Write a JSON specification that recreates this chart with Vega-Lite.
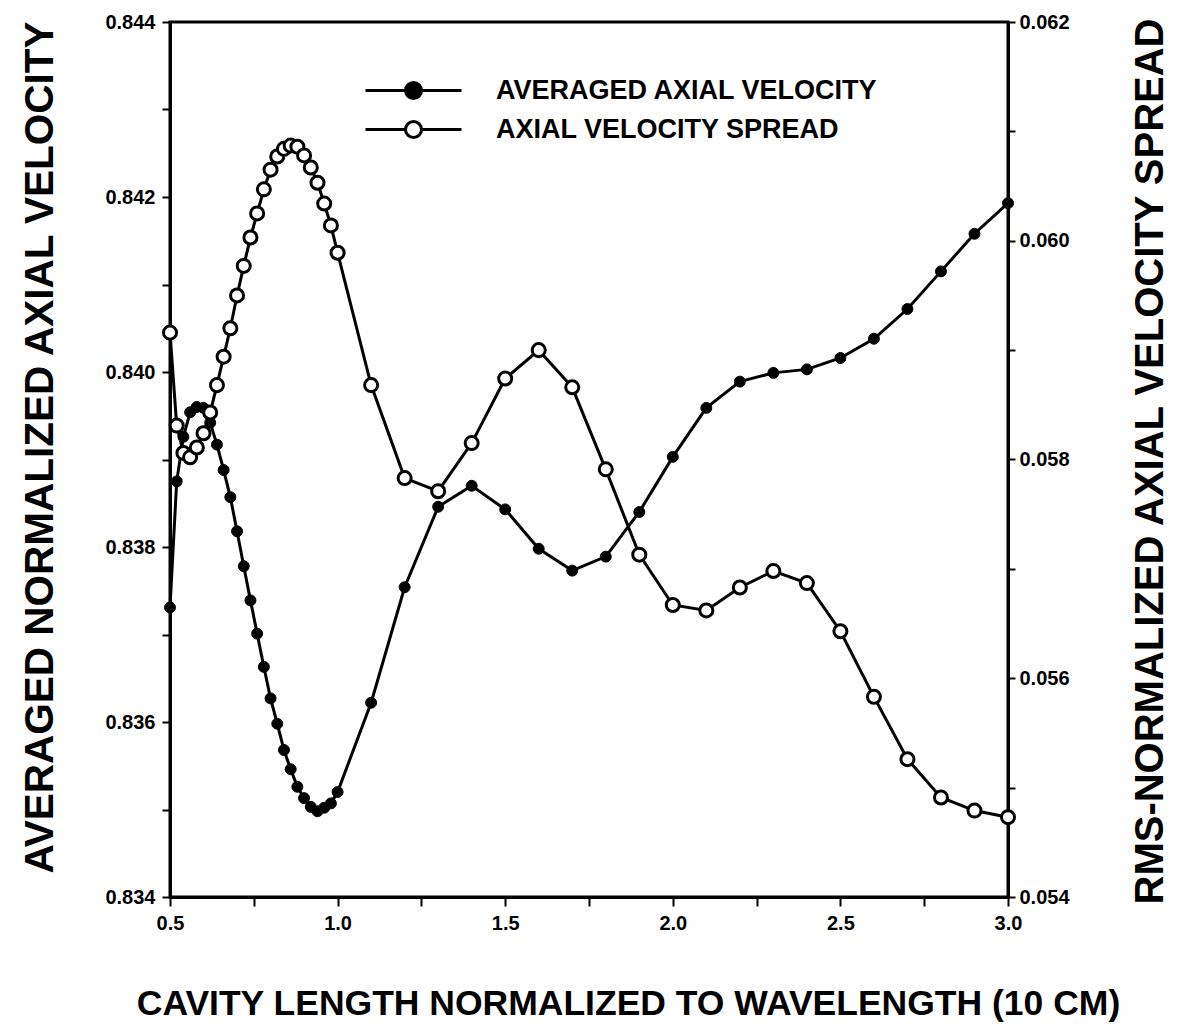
{
  "$schema": "https://vega.github.io/schema/vega-lite/v6.json",
  "width": 838,
  "height": 875,
  "autosize": {"type": "none"},
  "padding": {"left": 170, "top": 22, "right": 173, "bottom": 134},
  "background": "white",
  "config": {
    "view": {"stroke": "black", "strokeWidth": 3},
    "axis": {
      "labelFont": "Liberation Sans", "labelFontWeight": "bold", "labelFontSize": 20, "labelColor": "black",
      "tickColor": "black", "domainColor": "black", "tickWidth": 2, "domainWidth": 3, "grid": false,
      "titleFont": "Liberation Sans", "titleFontWeight": "bold", "titleColor": "black"
    },
    "legend": {
      "labelFont": "Liberation Sans", "labelFontWeight": "bold", "labelFontSize": 27, "labelColor": "black", "labelLimit": 0
    }
  },
  "datasets": {
    "avg": [
      {"L": 0.50, "V": 0.83731, "S": "AVERAGED AXIAL VELOCITY"},
      {"L": 0.52, "V": 0.83875, "S": "AVERAGED AXIAL VELOCITY"},
      {"L": 0.54, "V": 0.83926, "S": "AVERAGED AXIAL VELOCITY"},
      {"L": 0.56, "V": 0.83954, "S": "AVERAGED AXIAL VELOCITY"},
      {"L": 0.58, "V": 0.83960, "S": "AVERAGED AXIAL VELOCITY"},
      {"L": 0.60, "V": 0.83959, "S": "AVERAGED AXIAL VELOCITY"},
      {"L": 0.62, "V": 0.83942, "S": "AVERAGED AXIAL VELOCITY"},
      {"L": 0.64, "V": 0.83917, "S": "AVERAGED AXIAL VELOCITY"},
      {"L": 0.66, "V": 0.83888, "S": "AVERAGED AXIAL VELOCITY"},
      {"L": 0.68, "V": 0.83857, "S": "AVERAGED AXIAL VELOCITY"},
      {"L": 0.70, "V": 0.83818, "S": "AVERAGED AXIAL VELOCITY"},
      {"L": 0.72, "V": 0.83778, "S": "AVERAGED AXIAL VELOCITY"},
      {"L": 0.74, "V": 0.83739, "S": "AVERAGED AXIAL VELOCITY"},
      {"L": 0.76, "V": 0.83701, "S": "AVERAGED AXIAL VELOCITY"},
      {"L": 0.78, "V": 0.83663, "S": "AVERAGED AXIAL VELOCITY"},
      {"L": 0.80, "V": 0.83627, "S": "AVERAGED AXIAL VELOCITY"},
      {"L": 0.82, "V": 0.83598, "S": "AVERAGED AXIAL VELOCITY"},
      {"L": 0.84, "V": 0.83568, "S": "AVERAGED AXIAL VELOCITY"},
      {"L": 0.86, "V": 0.83546, "S": "AVERAGED AXIAL VELOCITY"},
      {"L": 0.88, "V": 0.83526, "S": "AVERAGED AXIAL VELOCITY"},
      {"L": 0.90, "V": 0.83513, "S": "AVERAGED AXIAL VELOCITY"},
      {"L": 0.92, "V": 0.83503, "S": "AVERAGED AXIAL VELOCITY"},
      {"L": 0.94, "V": 0.83498, "S": "AVERAGED AXIAL VELOCITY"},
      {"L": 0.96, "V": 0.83502, "S": "AVERAGED AXIAL VELOCITY"},
      {"L": 0.98, "V": 0.83507, "S": "AVERAGED AXIAL VELOCITY"},
      {"L": 1.00, "V": 0.83520, "S": "AVERAGED AXIAL VELOCITY"},
      {"L": 1.1, "V": 0.83622, "S": "AVERAGED AXIAL VELOCITY"},
      {"L": 1.2, "V": 0.83754, "S": "AVERAGED AXIAL VELOCITY"},
      {"L": 1.3, "V": 0.83846, "S": "AVERAGED AXIAL VELOCITY"},
      {"L": 1.4, "V": 0.83870, "S": "AVERAGED AXIAL VELOCITY"},
      {"L": 1.5, "V": 0.83843, "S": "AVERAGED AXIAL VELOCITY"},
      {"L": 1.6, "V": 0.83798, "S": "AVERAGED AXIAL VELOCITY"},
      {"L": 1.7, "V": 0.83773, "S": "AVERAGED AXIAL VELOCITY"},
      {"L": 1.8, "V": 0.83789, "S": "AVERAGED AXIAL VELOCITY"},
      {"L": 1.9, "V": 0.83840, "S": "AVERAGED AXIAL VELOCITY"},
      {"L": 2.0, "V": 0.83903, "S": "AVERAGED AXIAL VELOCITY"},
      {"L": 2.1, "V": 0.83959, "S": "AVERAGED AXIAL VELOCITY"},
      {"L": 2.2, "V": 0.83989, "S": "AVERAGED AXIAL VELOCITY"},
      {"L": 2.3, "V": 0.83999, "S": "AVERAGED AXIAL VELOCITY"},
      {"L": 2.4, "V": 0.84003, "S": "AVERAGED AXIAL VELOCITY"},
      {"L": 2.5, "V": 0.84016, "S": "AVERAGED AXIAL VELOCITY"},
      {"L": 2.6, "V": 0.84038, "S": "AVERAGED AXIAL VELOCITY"},
      {"L": 2.7, "V": 0.84072, "S": "AVERAGED AXIAL VELOCITY"},
      {"L": 2.8, "V": 0.84115, "S": "AVERAGED AXIAL VELOCITY"},
      {"L": 2.9, "V": 0.84158, "S": "AVERAGED AXIAL VELOCITY"},
      {"L": 3.0, "V": 0.84193, "S": "AVERAGED AXIAL VELOCITY"}
    ],
    "spread": [
      {"L": 0.50, "V": 0.05916, "S": "AXIAL VELOCITY SPREAD"},
      {"L": 0.52, "V": 0.05831, "S": "AXIAL VELOCITY SPREAD"},
      {"L": 0.54, "V": 0.05806, "S": "AXIAL VELOCITY SPREAD"},
      {"L": 0.56, "V": 0.05802, "S": "AXIAL VELOCITY SPREAD"},
      {"L": 0.58, "V": 0.05811, "S": "AXIAL VELOCITY SPREAD"},
      {"L": 0.60, "V": 0.05824, "S": "AXIAL VELOCITY SPREAD"},
      {"L": 0.62, "V": 0.05843, "S": "AXIAL VELOCITY SPREAD"},
      {"L": 0.64, "V": 0.05868, "S": "AXIAL VELOCITY SPREAD"},
      {"L": 0.66, "V": 0.05894, "S": "AXIAL VELOCITY SPREAD"},
      {"L": 0.68, "V": 0.05920, "S": "AXIAL VELOCITY SPREAD"},
      {"L": 0.70, "V": 0.05950, "S": "AXIAL VELOCITY SPREAD"},
      {"L": 0.72, "V": 0.05977, "S": "AXIAL VELOCITY SPREAD"},
      {"L": 0.74, "V": 0.06003, "S": "AXIAL VELOCITY SPREAD"},
      {"L": 0.76, "V": 0.06025, "S": "AXIAL VELOCITY SPREAD"},
      {"L": 0.78, "V": 0.06047, "S": "AXIAL VELOCITY SPREAD"},
      {"L": 0.80, "V": 0.06065, "S": "AXIAL VELOCITY SPREAD"},
      {"L": 0.82, "V": 0.06077, "S": "AXIAL VELOCITY SPREAD"},
      {"L": 0.84, "V": 0.06084, "S": "AXIAL VELOCITY SPREAD"},
      {"L": 0.86, "V": 0.06087, "S": "AXIAL VELOCITY SPREAD"},
      {"L": 0.88, "V": 0.06086, "S": "AXIAL VELOCITY SPREAD"},
      {"L": 0.90, "V": 0.06078, "S": "AXIAL VELOCITY SPREAD"},
      {"L": 0.92, "V": 0.06067, "S": "AXIAL VELOCITY SPREAD"},
      {"L": 0.94, "V": 0.06053, "S": "AXIAL VELOCITY SPREAD"},
      {"L": 0.96, "V": 0.06034, "S": "AXIAL VELOCITY SPREAD"},
      {"L": 0.98, "V": 0.06014, "S": "AXIAL VELOCITY SPREAD"},
      {"L": 1.00, "V": 0.05989, "S": "AXIAL VELOCITY SPREAD"},
      {"L": 1.1, "V": 0.05868, "S": "AXIAL VELOCITY SPREAD"},
      {"L": 1.2, "V": 0.05783, "S": "AXIAL VELOCITY SPREAD"},
      {"L": 1.3, "V": 0.05771, "S": "AXIAL VELOCITY SPREAD"},
      {"L": 1.4, "V": 0.05815, "S": "AXIAL VELOCITY SPREAD"},
      {"L": 1.5, "V": 0.05874, "S": "AXIAL VELOCITY SPREAD"},
      {"L": 1.6, "V": 0.05900, "S": "AXIAL VELOCITY SPREAD"},
      {"L": 1.7, "V": 0.05866, "S": "AXIAL VELOCITY SPREAD"},
      {"L": 1.8, "V": 0.05791, "S": "AXIAL VELOCITY SPREAD"},
      {"L": 1.9, "V": 0.05713, "S": "AXIAL VELOCITY SPREAD"},
      {"L": 2.0, "V": 0.05667, "S": "AXIAL VELOCITY SPREAD"},
      {"L": 2.1, "V": 0.05662, "S": "AXIAL VELOCITY SPREAD"},
      {"L": 2.2, "V": 0.05683, "S": "AXIAL VELOCITY SPREAD"},
      {"L": 2.3, "V": 0.05698, "S": "AXIAL VELOCITY SPREAD"},
      {"L": 2.4, "V": 0.05687, "S": "AXIAL VELOCITY SPREAD"},
      {"L": 2.5, "V": 0.05643, "S": "AXIAL VELOCITY SPREAD"},
      {"L": 2.6, "V": 0.05583, "S": "AXIAL VELOCITY SPREAD"},
      {"L": 2.7, "V": 0.05526, "S": "AXIAL VELOCITY SPREAD"},
      {"L": 2.8, "V": 0.05491, "S": "AXIAL VELOCITY SPREAD"},
      {"L": 2.9, "V": 0.05479, "S": "AXIAL VELOCITY SPREAD"},
      {"L": 3.0, "V": 0.05473, "S": "AXIAL VELOCITY SPREAD"}
    ]
  },
  "encoding": {
    "x": {
      "field": "L", "type": "quantitative",
      "scale": {"domain": [0.5, 3.0], "nice": false, "zero": false},
      "axis": {
        "title": "CAVITY LENGTH NORMALIZED TO WAVELENGTH (10 CM)",
        "values": [0.5, 0.75, 1.0, 1.25, 1.5, 1.75, 2.0, 2.25, 2.5, 2.75, 3.0],
        "labelExpr": "(round(datum.value*4) % 2 == 0) ? format(datum.value, '.1f') : ''",
        "tickSize": 9, "labelPadding": 7, "labelFlush": false, "labelFontSize": 20,
        "titleFontSize": 35.5, "titleX": 458, "titleY": 106, "titleAlign": "center", "titleBaseline": "middle"
      }
    }
  },
  "layer": [
    {
      "data": {"name": "avg"},
      "encoding": {
        "y": {
          "field": "V", "type": "quantitative",
          "scale": {"domain": [0.834, 0.844], "nice": false, "zero": false},
          "axis": {
            "orient": "left",
            "title": "AVERAGED NORMALIZED AXIAL VELOCITY",
            "values": [0.834, 0.835, 0.836, 0.837, 0.838, 0.839, 0.84, 0.841, 0.842, 0.843, 0.844],
            "labelExpr": "(round(datum.value*1000) % 2 == 0) ? format(datum.value, '.3f') : ''",
            "tickSize": 8, "labelPadding": 7, "labelFlush": false, "labelFontSize": 20,
            "titleFontSize": 40.5, "titleAngle": -90, "titleX": -130, "titleY": 425, "titleAlign": "center", "titleBaseline": "middle"
          }
        }
      },
      "layer": [
        {"mark": {"type": "line", "color": "black", "strokeWidth": 3}},
        {
          "mark": {"type": "point", "filled": true, "stroke": "black", "strokeWidth": 1, "size": 120, "opacity": 1},
          "encoding": {
            "fill": {
              "field": "S", "type": "nominal",
              "scale": {"domain": ["AVERAGED AXIAL VELOCITY", "AXIAL VELOCITY SPREAD"], "range": ["black", "white"]},
              "legend": {
                "title": null, "orient": "none", "legendX": 230, "legendY": 55, "padding": 0,
                "symbolSize": 400,
                "symbolType": "M-4.8,0L-0.8,0M0.8,0L4.8,0M-0.8,0A0.8,0.8,0,1,1,0.8,0A0.8,0.8,0,1,1,-0.8,0Z",
                "symbolStrokeColor": "black", "symbolStrokeWidth": 3, "symbolOpacity": 1,
                "labelOffset": 69, "rowPadding": 10
              }
            }
          }
        }
      ]
    },
    {
      "data": {"name": "spread"},
      "encoding": {
        "y": {
          "field": "V", "type": "quantitative",
          "scale": {"domain": [0.054, 0.062], "nice": false, "zero": false},
          "axis": {
            "orient": "right",
            "title": "RMS-NORMALIZED AXIAL VELOCITY SPREAD",
            "values": [0.054, 0.055, 0.056, 0.057, 0.058, 0.059, 0.06, 0.061, 0.062],
            "labelExpr": "(round(datum.value*1000) % 2 == 0) ? format(datum.value, '.3f') : ''",
            "tickSize": 7, "labelPadding": 4, "labelFlush": false, "labelFontSize": 20,
            "titleFontSize": 40, "titleAngle": -90, "titleX": 142, "titleY": 439, "titleAlign": "center", "titleBaseline": "middle"
          }
        }
      },
      "layer": [
        {"mark": {"type": "line", "color": "black", "strokeWidth": 3}},
        {
          "mark": {"type": "point", "filled": true, "stroke": "black", "strokeWidth": 3, "size": 170, "opacity": 1},
          "encoding": {
            "fill": {
              "field": "S", "type": "nominal",
              "scale": {"domain": ["AVERAGED AXIAL VELOCITY", "AXIAL VELOCITY SPREAD"], "range": ["black", "white"]},
              "legend": {
                "title": null, "orient": "none", "legendX": 230, "legendY": 55, "padding": 0,
                "symbolSize": 400,
                "symbolType": "M-4.8,0L-0.8,0M0.8,0L4.8,0M-0.8,0A0.8,0.8,0,1,1,0.8,0A0.8,0.8,0,1,1,-0.8,0Z",
                "symbolStrokeColor": "black", "symbolStrokeWidth": 3, "symbolOpacity": 1,
                "labelOffset": 69, "rowPadding": 10
              }
            }
          }
        }
      ]
    }
  ],
  "resolve": {"scale": {"y": "independent"}}
}
